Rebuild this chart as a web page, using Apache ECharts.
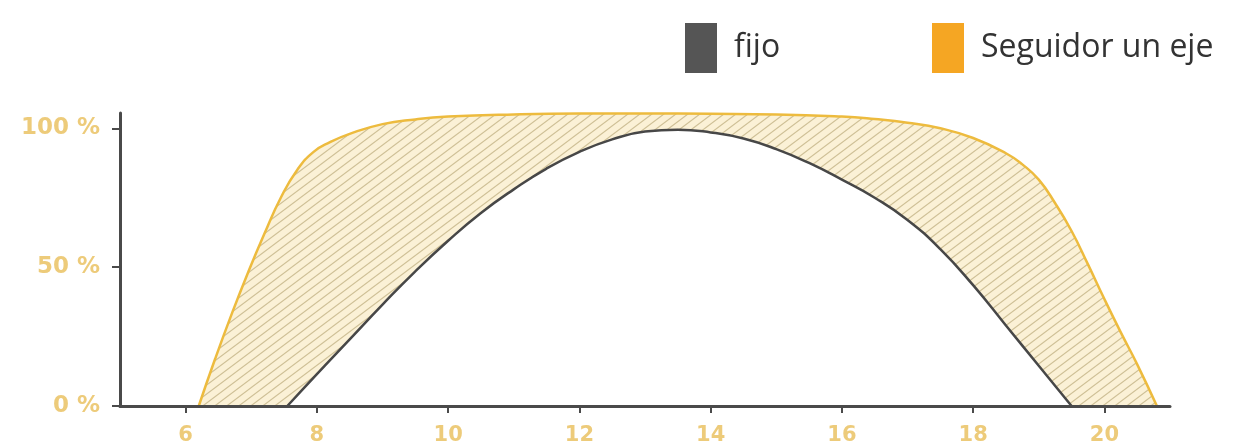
<!DOCTYPE html>
<html>
<head>
<meta charset="utf-8">
<script src="https://cdn.jsdelivr.net/npm/echarts@6/dist/echarts.min.js"></script>
<style>html,body{margin:0;padding:0;background:#fff;}#c{width:1242px;height:448px;}</style>
</head>
<body>
<div id="c"></div>
<script>
const xTicks = [6, 8, 10, 12, 14, 16, 18, 20];
const yTicks = [0, 50, 100];
const seriesNames = ['fijo', 'Seguidor un eje'];
const hoursFijo = [7.55, 8, 8.5, 9, 9.5, 10, 10.5, 11, 11.5, 12, 12.5, 13, 13.5, 14, 14.5, 15, 15.5, 16, 16.5, 17, 17.5, 18, 18.5, 19, 19.5];
const valuesFijo = [0, 11.5, 24, 36.5, 48.5, 59.5, 69.5, 78, 85.5, 91.5, 96, 98.8, 99.5, 98.5, 96.3, 92.5, 87.5, 81.5, 75, 67, 56.5, 43.5, 29, 14.5, 0];
const hoursSeguidor = [6.2, 6.45, 6.7, 6.95, 7.2, 7.45, 7.7, 7.95, 8.2, 8.5, 9, 9.5, 10, 11, 12, 13, 14, 15, 16, 16.5, 17, 17.5, 18, 18.5, 18.75, 19, 19.25, 19.5, 19.75, 20, 20.25, 20.5, 20.8];
const valuesSeguidor = [0, 17, 33, 48, 62, 75, 85, 91.5, 95, 98, 101.5, 103.2, 104.2, 105, 105.3, 105.3, 105.2, 105, 104.2, 103.3, 102, 100, 96.5, 91, 87, 81.5, 73, 63, 51, 38.5, 26.5, 15, 0];

function pair(xs, ys) { return xs.map((x, i) => [x, ys[i]]); }

// hatch pattern
const PW = 12, PH = 9;
const pc = document.createElement('canvas');
pc.width = PW; pc.height = PH;
const g = pc.getContext('2d');
g.fillStyle = '#FBF1D6';
g.fillRect(0, 0, PW, PH);
g.strokeStyle = '#CFC097';
g.lineWidth = 1.2;
g.beginPath();
for (let k = -1; k <= 1; k++) {
  g.moveTo(k * PW - PW, 2 * PH); g.lineTo(k * PW + 2 * PW, -PH);
}
g.stroke();

const legendText = {fontFamily: 'Open Sans', fontSize: 32, color: '#333', padding: [0, 0, 4, 12]};
const chart = echarts.init(document.getElementById('c'), null, {renderer: 'canvas'});
chart.setOption({
  animation: false,
  backgroundColor: '#fff',
  grid: {left: 120, right: 72, top: 113, bottom: 42},
  legend: [
    {
      left: 680, top: 18, icon: 'rect', itemWidth: 32, itemHeight: 50,
      textStyle: legendText,
      data: [{name: seriesNames[0], itemStyle: {color: '#555555'}}]
    },
    {
      left: 927, top: 18, icon: 'rect', itemWidth: 32, itemHeight: 50,
      textStyle: legendText,
      data: [{name: seriesNames[1], itemStyle: {color: '#F5A623'}}]
    }
  ],
  xAxis: {
    type: 'value', min: 5, max: 21, z: 5,
    splitLine: {show: false},
    axisLine: {show: true, lineStyle: {color: '#4a4a4a', width: 3}},
    axisTick: {show: true, customValues: xTicks, length: 7, lineStyle: {color: '#4a4a4a', width: 2}},
    axisLabel: {customValues: xTicks, color: '#EDCB7A', fontFamily: 'DejaVu Sans', fontWeight: 'bold', fontSize: 21, margin: 19}
  },
  yAxis: {
    type: 'value', min: 0, max: 105.5, z: 5,
    splitLine: {show: false},
    axisLine: {show: true, onZero: false, lineStyle: {color: '#4a4a4a', width: 3}},
    axisTick: {show: true, customValues: yTicks, length: 8, lineStyle: {color: '#4a4a4a', width: 2}},
    axisLabel: {customValues: yTicks, formatter: '{value} %', color: '#EDCB7A', fontFamily: 'DejaVu Sans', fontWeight: 'bold', fontSize: 23, margin: 20}
  },
  series: [
    {
      name: seriesNames[1], type: 'line', smooth: 0.5, symbol: 'none', clip: false,
      data: pair(hoursSeguidor, valuesSeguidor),
      lineStyle: {color: '#EDBB3E', width: 2.5},
      itemStyle: {color: '#F5A623'},
      areaStyle: {color: {image: pc, repeat: 'repeat'}, opacity: 1}
    },
    {
      name: seriesNames[0], type: 'line', smooth: 0.5, symbol: 'none', clip: false,
      data: pair(hoursFijo, valuesFijo),
      lineStyle: {color: '#474747', width: 2.5},
      itemStyle: {color: '#555555'},
      areaStyle: {color: '#ffffff', opacity: 1}
    }
  ]
});
</script>
</body>
</html>
